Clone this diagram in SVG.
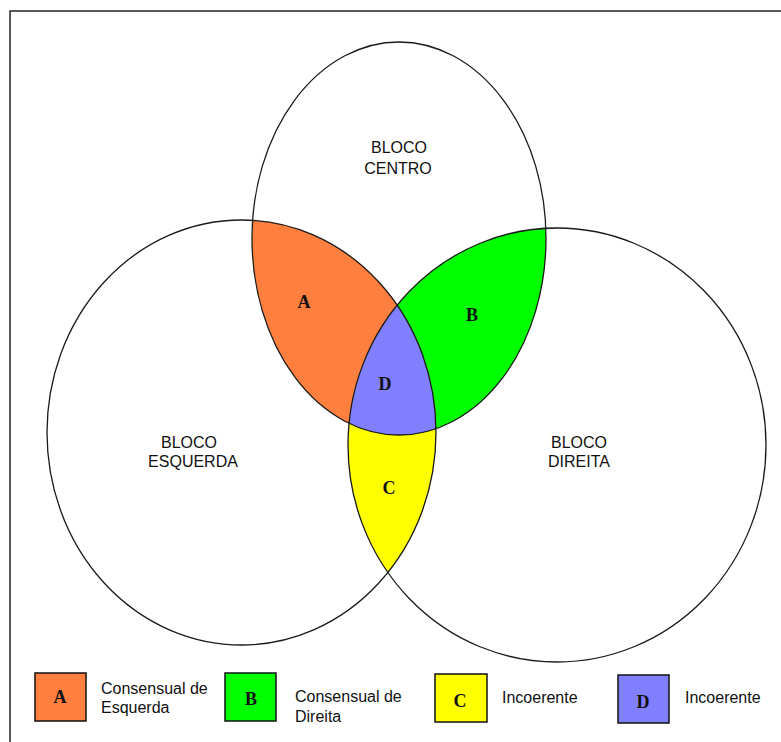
<svg xmlns="http://www.w3.org/2000/svg" width="781" height="742" viewBox="0 0 781 742">
<style>
.ring{fill:none;stroke:#1a1a1a;stroke-width:1.3}
.lbl{font-family:"Liberation Sans",Arial,sans-serif;font-size:16px;fill:#111}
.mid{text-anchor:middle}
.let{font-family:"Liberation Serif","Times New Roman",serif;font-weight:bold;font-size:18px;fill:#111;text-anchor:middle}
.box{stroke:#111;stroke-width:1.5}
</style>
<defs>
<ellipse id="eC" cx="399" cy="238.5" rx="147" ry="196.5"/>
<ellipse id="eE" cx="241.5" cy="432.5" rx="194.5" ry="212.5"/>
<ellipse id="eD" cx="557" cy="445" rx="209" ry="217"/>
<clipPath id="clipE"><use href="#eE"/></clipPath>
<clipPath id="clipD"><use href="#eD"/></clipPath>
</defs>
<rect width="781" height="742" fill="#fff"/>
<g id="frame"><path d="M781 11H10V742" fill="none" stroke="#222" stroke-width="1.5"/></g>
<g id="fills">
<use href="#eC" fill="#ff7f3f" clip-path="url(#clipE)"/>
<use href="#eC" fill="#00ff00" clip-path="url(#clipD)"/>
<use href="#eE" fill="#ffff00" clip-path="url(#clipD)"/>
<g clip-path="url(#clipE)"><use href="#eC" fill="#8080ff" clip-path="url(#clipD)"/></g>
</g>
<g id="centro"><use href="#eC" class="ring"/>
<text class="lbl mid" x="399" y="153">BLOCO</text><text class="lbl mid" x="398" y="174">CENTRO</text></g>
<g id="esquerda"><use href="#eE" class="ring"/>
<text class="lbl mid" x="189" y="448">BLOCO</text><text class="lbl mid" x="193" y="467">ESQUERDA</text></g>
<g id="direita"><use href="#eD" class="ring"/>
<text class="lbl mid" x="579" y="448">BLOCO</text><text class="lbl mid" x="579" y="467">DIREITA</text></g>
<g id="regions">
<text class="let" x="304" y="308">A</text>
<text class="let" x="472" y="321">B</text>
<text class="let" x="389" y="494">C</text>
<text class="let" x="385" y="390">D</text>
</g>
<g id="legend-A"><rect class="box" x="35" y="673" width="51" height="48" fill="#ff7f3f"/>
<text class="let" x="60" y="703">A</text>
<text class="lbl" x="101" y="694">Consensual de</text><text class="lbl" x="101" y="713">Esquerda</text></g>
<g id="legend-B"><rect class="box" x="225" y="673" width="51" height="48" fill="#00ff00"/>
<text class="let" x="251" y="705">B</text>
<text class="lbl" x="295" y="702">Consensual de</text><text class="lbl" x="295" y="722">Direita</text></g>
<g id="legend-C"><rect class="box" x="435" y="674" width="52" height="48" fill="#ffff00"/>
<text class="let" x="460" y="707">C</text>
<text class="lbl" x="502" y="703">Incoerente</text></g>
<g id="legend-D"><rect class="box" x="618" y="675" width="51" height="48" fill="#8080ff"/>
<text class="let" x="643" y="708">D</text>
<text class="lbl" x="685" y="703">Incoerente</text></g>
</svg>
